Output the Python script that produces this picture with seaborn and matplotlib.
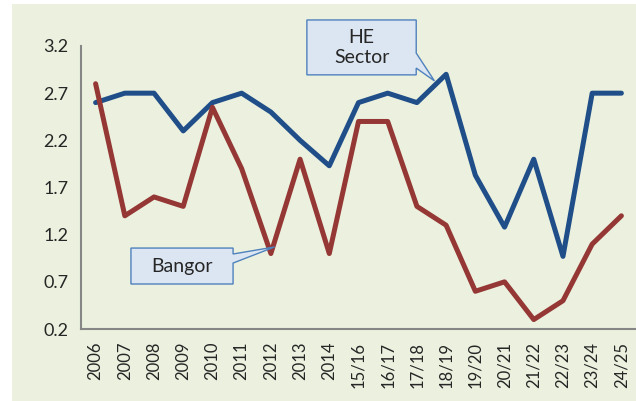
import matplotlib
matplotlib.use("Agg")
import matplotlib.pyplot as plt
import numpy as np
import pandas as pd
import seaborn as sns
from matplotlib.patches import Rectangle, Polygon

# ── Data ────────────────────────────────────────────────────────────────────
years = ["2006", "2007", "2008", "2009", "2010", "2011", "2012", "2013", "2014",
         "15/16", "16/17", "17/18", "18/19", "19/20", "20/21", "21/22", "22/23",
         "23/24", "24/25"]
he_sector = [2.6, 2.7, 2.7, 2.3, 2.6, 2.7, 2.5, 2.2, 1.93, 2.6, 2.7, 2.6, 2.9,
             1.83, 1.28, 2.0, 0.97, 2.7, 2.7]
bangor = [2.8, 1.4, 1.6, 1.5, 2.55, 1.9, 1.0, 2.0, 1.0, 2.4, 2.4, 1.5, 1.3,
          0.6, 0.7, 0.3, 0.5, 1.1, 1.4]
y_ticks = [0.2, 0.7, 1.2, 1.7, 2.2, 2.7, 3.2]

BG     = "#EBF1DE"
BLUE   = "#1F4E89"
RED    = "#953735"
GREY   = "#868686"
BOX_FC = "#DCE6F2"
BOX_EC = "#4F81BD"

df = pd.DataFrame({
    "year": years * 2,
    "value": he_sector + bangor,
    "series": ["HE Sector"] * len(years) + ["Bangor"] * len(years),
})

sns.set_style("white")
plt.rcParams["font.family"] = ["Lato", "DejaVu Sans"]

fig = plt.figure(figsize=(6.36, 4.01), dpi=100)
fig.patches.append(Rectangle((12 / 636, 0), 1 - 12 / 636, 1 - 4 / 401,
                             transform=fig.transFigure, facecolor=BG,
                             edgecolor="none", zorder=-10))
ax = fig.add_axes([81 / 636, 1 - 329 / 401, 1 - 81 / 636, (329 - 46) / 401])
ax.set_facecolor(BG)

sns.lineplot(data=df, x="year", y="value", hue="series", sort=False,
             palette={"HE Sector": BLUE, "Bangor": RED}, linewidth=3.6,
             legend=False, ax=ax)

n = len(years)
ax.set_xlim(-0.5, n - 0.5)
ax.set_ylim(y_ticks[0], y_ticks[-1])
ax.set_yticks(y_ticks)
ax.set_yticklabels([f"{v:.1f}" for v in y_ticks], fontsize=13)
ax.set_xticks(range(n))
ax.set_xticklabels(years, rotation=90, fontsize=12)
ax.set_xticks(np.arange(n + 1) - 0.5, minor=True)
ax.tick_params(axis="x", which="major", length=0, pad=9)
ax.tick_params(axis="x", which="minor", length=5, color=GREY, width=1.3, direction="out")
ax.tick_params(axis="y", length=5, color=GREY, width=1.3, direction="out", pad=4)
ax.set_xlabel("")
ax.set_ylabel("")

for side in ("top", "right"):
    ax.spines[side].set_visible(False)
for side in ("left", "bottom"):
    ax.spines[side].set_color(GREY)
    ax.spines[side].set_linewidth(1.5)


def callout(text, box, wedge, tip, **kw):
    """Box (axes coords x0, x1, y0, y1) with a pointer from its right edge to tip (data)."""
    x0, x1, y0, y1 = box
    w_top, w_bot = wedge
    tx, ty = ax.transAxes.inverted().transform(ax.transData.transform(tip))
    verts = [(x0, y1), (x1, y1), (x1, w_top), (tx, ty), (x1, w_bot), (x1, y0), (x0, y0)]
    ax.add_patch(Polygon(verts, closed=True, transform=ax.transAxes, fc=BOX_FC,
                         ec=BOX_EC, lw=1, clip_on=False, zorder=5))
    ax.text((x0 + x1) / 2, (y0 + y1) / 2, text, transform=ax.transAxes,
            ha="center", va="center", fontsize=14, zorder=6, **kw)


callout("HE\nSector", (0.407, 0.604, 0.898, 1.092), (0.975, 0.922), (11.6, 2.83),
        linespacing=1.25)
callout("Bangor", (0.090, 0.274, 0.159, 0.286), (0.265, 0.233), (6.13, 1.07))

fig.savefig("out.png", dpi=100)
